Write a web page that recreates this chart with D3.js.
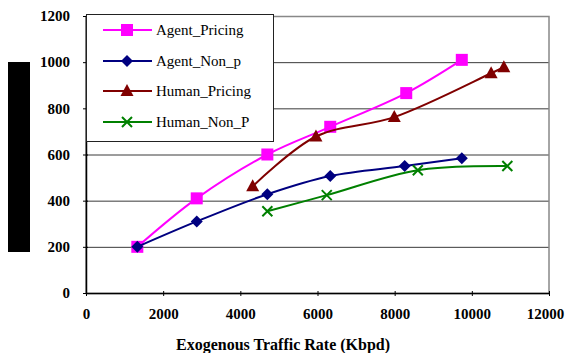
<!DOCTYPE html>
<html>
<head>
<meta charset="utf-8">
<script src="https://cdn.jsdelivr.net/npm/d3@7"></script>
<style>
body { margin: 0; background: #fff; }
svg { display: block; }
svg text { font-family: "Liberation Serif", "Times New Roman", serif; }
svg text.b { font-weight: bold; }
</style>
</head>
<body>
<svg id="chart"></svg>
<script>
const seriesNames = ["Agent_Pricing", "Agent_Non_p", "Human_Pricing", "Human_Non_P"];
const agentPricing = [[1330, 200], [2870, 410], [4700, 600], [6330, 720], [8300, 866], [9740, 1010]];
const agentNonP = [[1330, 200], [2870, 310], [4700, 428], [6330, 507], [8260, 550], [9740, 584]];
const humanPricing = [[4320, 462], [5960, 678], [7990, 762], [10500, 952], [10830, 978]];
const humanNonP = [[4700, 354], [6240, 424], [8600, 532], [10920, 550]];
const xTicks = [0, 2000, 4000, 6000, 8000, 10000, 12000];
const yTicks = [0, 200, 400, 600, 800, 1000, 1200];
const xTitle = "Exogenous Traffic Rate (Kbpd)";

function makeChart() {
    let w = 567, h = 353;
    let svg = d3.select('#chart').attr('width', w).attr('height', h);

    let x = d3.scaleLinear().domain([0, 12000]).range([86, 549]);
    let y = d3.scaleLinear().domain([0, 1200]).range([293, 16]);

    // redacted y title block
    svg.append('rect').attr('x', 8).attr('y', 62).attr('width', 22).attr('height', 190).attr('fill', '#000');

    // grid
    svg.append('g').selectAll('line')
        .data(yTicks.filter(d => d > 0 && d < 1200))
        .enter().append('line')
        .attr('x1', x(0)).attr('x2', x(12000))
        .attr('y1', d => y(d) + 0.5).attr('y2', d => y(d) + 0.5)
        .attr('stroke', '#3a3a3a').attr('stroke-width', 1);

    // frame
    svg.append('rect').attr('x', x(0)).attr('y', y(1200) + 0.5)
        .attr('width', x(12000) - x(0)).attr('height', y(0) - y(1200))
        .attr('fill', 'none').attr('stroke', '#888').attr('stroke-width', 1.5);

    let xAxis = d3.axisBottom(x).tickValues(xTicks).tickFormat(d3.format('d'))
        .tickSize(5).tickSizeOuter(0).tickPadding(10);
    svg.append('g').attr('transform', `translate(0, ${y(0)})`).call(xAxis)
        .attr('font-family', null)
        .call(g => g.select('.domain').attr('stroke', '#000').attr('stroke-width', 1.5))
        .call(g => g.selectAll('.tick line').attr('stroke', '#000').attr('transform', 'translate(0,-2)'))
        .call(g => g.selectAll('text').attr('class', 'b').attr('font-size', 15).attr('fill', '#000'))
        .call(g => g.selectAll('.tick:last-of-type text').attr('dx', -4));

    let yAxis = d3.axisLeft(y).tickValues(yTicks).tickFormat(d3.format('d'))
        .tickSize(5).tickSizeOuter(0).tickPadding(11);
    svg.append('g').attr('transform', `translate(${x(0)}, 0)`).call(yAxis)
        .attr('font-family', null)
        .call(g => g.select('.domain').attr('stroke', '#000').attr('stroke-width', 1.5))
        .call(g => g.selectAll('.tick line').attr('stroke', '#000').attr('transform', 'translate(2,0)'))
        .call(g => g.selectAll('text').attr('class', 'b').attr('font-size', 15).attr('fill', '#000'));

    svg.append('text').attr('class', 'b').attr('x', 283).attr('y', 350).attr('text-anchor', 'middle')
        .attr('font-size', 16).text(xTitle);

    let colors = ["#ff00ff", "#000080", "#800000", "#008000"];
    let shapes = ["square", "diamond", "triangle", "cross"];
    let allData = [agentPricing, agentNonP, humanPricing, humanNonP];

    let line = d3.line().curve(d3.curveCatmullRom.alpha(0.5))
        .x(d => x(d[0])).y(d => y(d[1]));

    function marker(g, shape, color) {
        if (shape === 'square') {
            g.append('rect').attr('x', -6).attr('y', -6).attr('width', 12).attr('height', 12).attr('fill', color);
        } else if (shape === 'diamond') {
            g.append('path').attr('d', 'M0,-6L6,0L0,6L-6,0Z').attr('fill', color);
        } else if (shape === 'triangle') {
            g.append('path').attr('d', 'M0,-7L6.5,5L-6.5,5Z').attr('fill', color);
        } else {
            g.append('path').attr('d', 'M-5,-5L5,5M-5,5L5,-5').attr('stroke', color).attr('stroke-width', 2).attr('fill', 'none');
        }
    }

    allData.forEach((data, i) => {
        svg.append('path').datum(data).attr('d', line)
            .attr('fill', 'none').attr('stroke', colors[i]).attr('stroke-width', 2);
        svg.append('g').selectAll('g').data(data).enter().append('g')
            .attr('transform', d => `translate(${x(d[0])}, ${y(d[1])})`)
            .each(function() { marker(d3.select(this), shapes[i], colors[i]); });
    });

    // legend
    let lg = svg.append('g');
    lg.append('rect').attr('x', 86.5).attr('y', 14.5).attr('width', 187).attr('height', 127)
        .attr('fill', '#fff').attr('stroke', '#222').attr('stroke-width', 1);
    let ly = [30, 61, 91, 122];
    seriesNames.forEach((name, i) => {
        lg.append('line').attr('x1', 103).attr('x2', 152).attr('y1', ly[i]).attr('y2', ly[i])
            .attr('stroke', colors[i]).attr('stroke-width', 2);
        let m = lg.append('g').attr('transform', `translate(127, ${ly[i]})`);
        marker(m, shapes[i], colors[i]);
        lg.append('text').attr('x', 156).attr('y', ly[i] + 5).attr('font-size', 15).text(name);
    });
}

window.onload = function() {
    makeChart();
}
</script>
</body>
</html>
